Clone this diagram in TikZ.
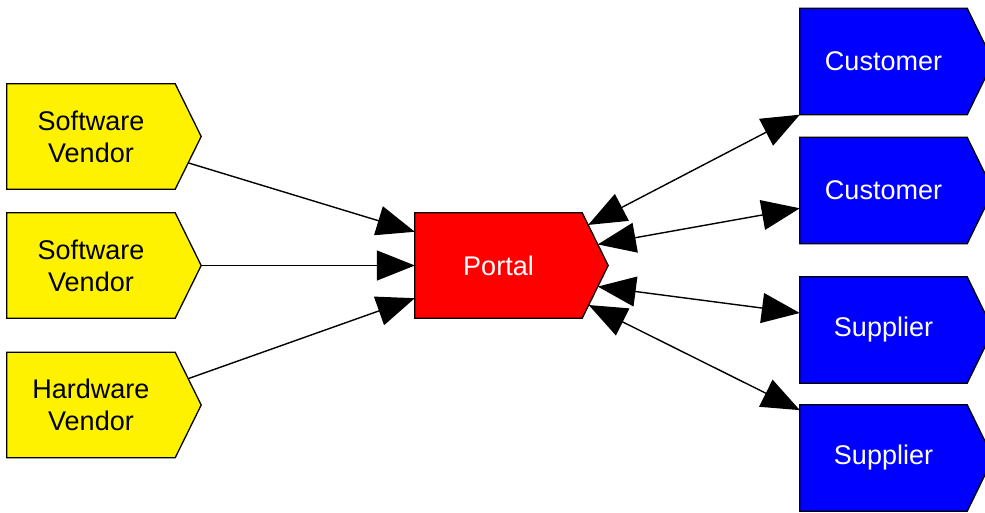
\documentclass[tikz,border=0pt]{standalone}
\usepackage{fontspec}
\setmainfont{Liberation Sans}
\usetikzlibrary{arrows.meta,calc,backgrounds}

% one unit = 1pt, y grows downwards
\tikzset{
  body/.style={rectangle, minimum width=168, minimum height=105, inner sep=0pt,
    align=center, font=\fontsize{27}{32}\selectfont},
  vendor/.style={body},
  hub/.style={body, minimum width=167, text=white},
  partner/.style={body, minimum width=167, minimum height=106, text=white},
  outline/.style={draw=black, line width=1.3pt, line join=miter},
  link/.style={line width=1.4pt, -{Triangle[length=38pt,width=30pt]}},
  duplex/.style={line width=1.4pt, {Triangle[length=38pt,width=30pt]}-{Triangle[length=38pt,width=30pt]}},
}

% tag-shaped outline behind a body node: rectangle plus a pointer on its right
\newcommand\tagoutline[2]{%
  \fill[#2, outline] (#1.north west) -- (#1.north east) -- ($(#1.east)+(26,0)$)
    -- (#1.south east) -- (#1.south west) -- cycle;
  \coordinate (#1-tip) at ($(#1.east)+(26,0)$);}

\begin{document}
\begin{tikzpicture}[x=1pt, y=-1pt]
\useasboundingbox (0,0) rectangle (985,512);

% suppliers of the portal (left)
\node[vendor] (sv1) at (91,136.5) {Software\\Vendor};
\node[vendor] (sv2) at (91,265.5) {Software\\Vendor};
\node[vendor] (hv)  at (91,405)   {Hardware\\Vendor};

% central portal
\node[hub] (portal) at (498.5,265.5) {Portal};

% trading partners (right)
\node[partner] (cust1) at (883.5,61.5) {Customer};
\node[partner] (cust2) at (883.5,190.5) {Customer};
\node[partner] (sup1)  at (883.5,330) {Supplier};
\node[partner] (sup2)  at (883.5,458) {Supplier};

\begin{scope}[on background layer]
  \tagoutline{sv1}{yellow}
  \tagoutline{sv2}{yellow}
  \tagoutline{hv}{yellow}
  \tagoutline{portal}{red}
  \tagoutline{cust1}{blue}
  \tagoutline{cust2}{blue}
  \tagoutline{sup1}{blue}
  \tagoutline{sup2}{blue}
\end{scope}

% vendors feed the portal
\draw[link] ($(sv1-tip)!0.5!(sv1.south east)$) -- ($(portal.north west)!0.18!(portal.south west)$);
\draw[link] (sv2-tip) -- (portal.west);
\draw[link] ($(hv-tip)!0.5!(hv.north east)$) -- ($(portal.north west)!0.81!(portal.south west)$);

% two-way links between portal and partners
\draw[duplex] ($(portal.north east)!0.23!(portal-tip)$) -- (cust1.south west);
\draw[duplex] ($(portal.north east)!0.6!(portal-tip)$) -- ($(cust2.north west)!0.667!(cust2.south west)$);
\draw[duplex] ($(portal-tip)!0.4!(portal.south east)$) -- ($(sup1.north west)!0.34!(sup1.south west)$);
\draw[duplex] ($(portal-tip)!0.75!(portal.south east)$) -- ($(sup2.north west)!0.05!(sup2.south west)$);
\end{tikzpicture}
\end{document}
